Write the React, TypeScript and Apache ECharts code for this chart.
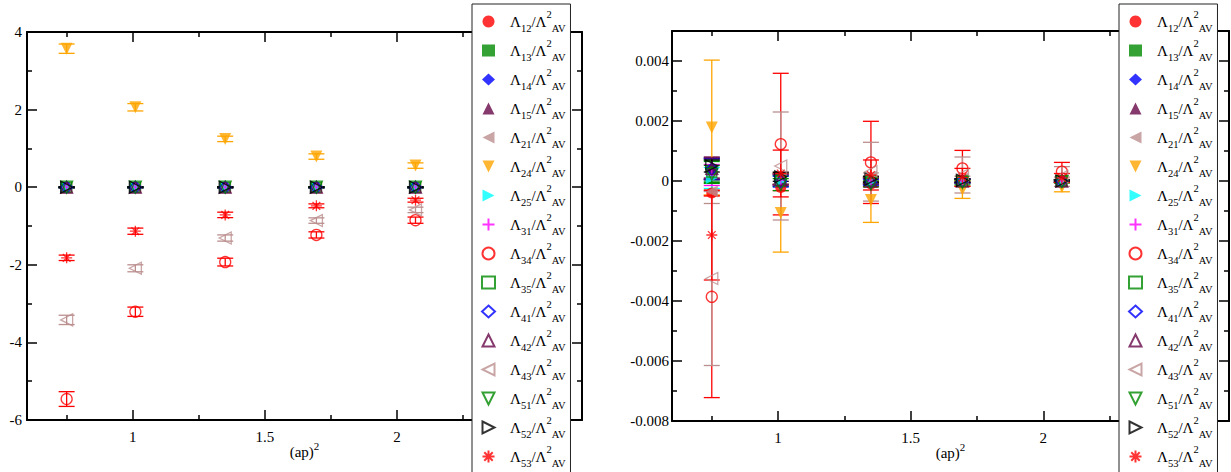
import React, { useEffect, useRef } from 'react';
import * as echarts from 'echarts';

const FONT = 'Liberation Serif, Times New Roman, serif';

// (ap)^2 values
const apSq = [0.75, 1.01, 1.35, 1.695, 2.07];

// series ids: Lambda_{ij} / Lambda^2_{AV}
const ids = ['12', '13', '14', '15', '21', '24', '25', '31', '34', '35', '41', '42', '43', '51', '52', '53'];

// ---------- left panel values and errors ----------
const left12 = [0, 0, 0, 0, 0];
const left13 = [0, 0, 0, 0, 0];
const left14 = [0, 0, 0, 0, 0];
const left15 = [0, 0, 0, 0, 0];
const left21 = [0, 0, 0, 0, 0];
const left24 = [3.57, 2.06, 1.245, 0.79, 0.557];
const left25 = [0, 0, 0, 0, 0];
const left31 = [0, 0, 0, 0, 0];
const left34 = [-5.46, -3.21, -1.93, -1.23, -0.85];
const left35 = [0, 0, 0, 0, 0];
const left41 = [0, 0, 0, 0, 0];
const left42 = [0, 0, 0, 0, 0];
const left43 = [-3.42, -2.09, -1.31, -0.86, -0.585];
const left51 = [0, 0, 0, 0, 0];
const left52 = [0, 0, 0, 0, 0];
const left53 = [-1.82, -1.134, -0.714, -0.48, -0.335];

const leftErrSmall = [0.01, 0.01, 0.01, 0.01, 0.01];
const leftErr24 = [0.12, 0.095, 0.07, 0.07, 0.07];
const leftErr34 = [0.19, 0.12, 0.1, 0.08, 0.08];
const leftErr43 = [0.12, 0.09, 0.08, 0.07, 0.07];
const leftErr53 = [0.07, 0.08, 0.07, 0.05, 0.05];

// ---------- right panel values and errors ----------
const right12 = [-0.0004, -0.00022, -0.0001, 0.00001, 0.00001];
const right13 = [0.00035, 0.00006, 0.00003, 0.00001, 0.0];
const right14 = [0.0004, 0.00004, 0.0, 0.0, 0.0];
const right15 = [0.00045, 0.00008, 0.00004, 0.00001, 0.0];
const right21 = [-0.00035, 0.0001, 0.00015, 0.00008, 0.00008];
const right24 = [0.00178, -0.00107, -0.00063, -0.00028, -0.0002];
const right25 = [0.0001, 0.0, -0.00002, 0.0, 0.0];
const right31 = [0.0002, 0.00003, 0.0, 0.0, 0.0];
const right34 = [-0.00386, 0.00123, 0.00062, 0.00042, 0.00031];
const right35 = [0.0003, 0.0, 0.0, 0.0, 0.0];
const right41 = [0.0004, -0.00002, -0.00004, 0.0, 0.0];
const right42 = [0.00042, 0.00005, 0.0, 0.0, 0.0];
const right43 = [-0.00325, 0.0005, 0.00031, 0.0002, 0.00015];
const right51 = [0.00022, -0.00012, -0.0001, -0.00005, -0.00002];
const right52 = [0.0005, 0.00014, 0.00006, 0.00002, 0.0];
const right53 = [-0.0018, 0.00025, 0.0002, 0.00012, 0.0001];

const rightErr12 = [0.00008, 0.0001, 0.00008, 0.00005, 0.00004];
const rightErrCluster = [0.00035, 0.00018, 0.0001, 0.00006, 0.00004];
const rightErr21 = [0.0004, 0.0002, 0.00012, 0.00008, 0.00005];
const rightErr24 = [0.00225, 0.0013, 0.00075, 0.0003, 0.00016];
const rightErr34 = [0.00336, 0.00236, 0.00137, 0.0006, 0.00031];
const rightErr43 = [0.0029, 0.0018, 0.00098, 0.0006, 0.00033];
const rightErr51 = [0.0003, 0.0002, 0.0001, 0.00008, 0.00005];
const rightErr52 = [0.0002, 0.00015, 0.0001, 0.00005, 0.00003];
const rightErr53 = [0.0015, 0.00078, 0.0005, 0.0003, 0.00015];

const leftVals = [left12, left13, left14, left15, left21, left24, left25, left31, left34, left35, left41, left42, left43, left51, left52, left53];
const leftErrs = [leftErrSmall, leftErrSmall, leftErrSmall, leftErrSmall, leftErrSmall, leftErr24, leftErrSmall, leftErrSmall, leftErr34, leftErrSmall, leftErrSmall, leftErrSmall, leftErr43, leftErrSmall, leftErrSmall, leftErr53];
const rightVals = [right12, right13, right14, right15, right21, right24, right25, right31, right34, right35, right41, right42, right43, right51, right52, right53];
const rightErrs = [rightErr12, rightErrCluster, rightErrCluster, rightErrCluster, rightErr21, rightErr24, rightErrCluster, rightErrCluster, rightErr34, rightErrCluster, rightErrCluster, rightErrCluster, rightErr43, rightErr51, rightErr52, rightErr53];

// axis ticks and labels
const xMajorTicks = [1, 1.5, 2, 2.5];
const xMajorLabels = [1, 1.5, 2];
const xMinor = [0.75, 1.25, 1.75, 2.25];
const yMajorL = [-6, -4, -2, 0, 2, 4];
const yMinorL = [-5, -3, -1, 1, 3];
const yMajorR = [-0.008, -0.006, -0.004, -0.002, 0, 0.002, 0.004];
const yMinorR = [-0.007, -0.005, -0.003, -0.001, 0.001, 0.003];

// styles
const RED = '#ff0000';
const GREEN = '#008a00';
const BLUE = '#0000ff';
const MAROON = '#670748';
const ROSY = '#bc8f8f';
const ORANGE = '#ffa500';
const CYAN = '#00ffff';
const MAGENTA = '#ff00ff';
const BLACK = '#000000';

const PLUS = 'path://M5,0L5,10M0,5L10,5';
const STAR = 'path://M5,0L5,10M0,5L10,5M1.5,1.5L8.5,8.5M1.5,8.5L8.5,1.5';
const TRI_UP = 'path://M5,0L10,10L0,10Z';
const TRI_DOWN = 'path://M0,0L10,0L5,10Z';
const TRI_LEFT = 'path://M10,0L10,10L0,5Z';
const TRI_RIGHT = 'path://M0,0L10,5L0,10Z';

type Sty = { sym: string; size: number; color: string; open: boolean };
const styles: Sty[] = [
  { sym: 'circle', size: 11, color: RED, open: false },
  { sym: 'rect', size: 10, color: GREEN, open: false },
  { sym: 'diamond', size: 12, color: BLUE, open: false },
  { sym: TRI_UP, size: 12, color: MAROON, open: false },
  { sym: TRI_LEFT, size: 12, color: ROSY, open: false },
  { sym: TRI_DOWN, size: 12, color: ORANGE, open: false },
  { sym: TRI_RIGHT, size: 12, color: CYAN, open: false },
  { sym: PLUS, size: 11, color: MAGENTA, open: true },
  { sym: 'circle', size: 11, color: RED, open: true },
  { sym: 'rect', size: 10, color: GREEN, open: true },
  { sym: 'diamond', size: 12, color: BLUE, open: true },
  { sym: TRI_UP, size: 12, color: MAROON, open: true },
  { sym: TRI_LEFT, size: 12, color: ROSY, open: true },
  { sym: TRI_DOWN, size: 12, color: GREEN, open: true },
  { sym: TRI_RIGHT, size: 12, color: BLACK, open: true },
  { sym: STAR, size: 11, color: RED, open: true },
];

const nameOf = (id: string) => `Λ${id}/Λ2AV`;

function panelSeries(p: number, vals: number[][], errs: number[][]) {
  const out: any[] = [];
  ids.forEach((id, k) => {
    const st = styles[k];
    out.push({
      type: 'custom',
      name: `${nameOf(id)} err ${p}`,
      xAxisIndex: p * 4,
      yAxisIndex: p * 4,
      silent: true,
      data: apSq.map((x, i) => [x, vals[k][i], errs[k][i]]),
      encode: { x: 0, y: 1 },
      renderItem: (params: any, api: any) => {
        const x = api.value(0);
        const y = api.value(1);
        const e = api.value(2);
        const t = api.coord([x, y + e]);
        const b = api.coord([x, y - e]);
        const hw = 8;
        const s = { stroke: st.color, lineWidth: 1.3 };
        return {
          type: 'group',
          children: [
            { type: 'line', shape: { x1: t[0], y1: t[1], x2: b[0], y2: b[1] }, style: s },
            { type: 'line', shape: { x1: t[0] - hw, y1: t[1], x2: t[0] + hw, y2: t[1] }, style: s },
            { type: 'line', shape: { x1: b[0] - hw, y1: b[1], x2: b[0] + hw, y2: b[1] }, style: s },
          ],
        };
      },
    });
    out.push({
      type: 'scatter',
      name: nameOf(id),
      xAxisIndex: p * 4,
      yAxisIndex: p * 4,
      data: apSq.map((x, i) => [x, vals[k][i]]),
      symbol: st.sym,
      symbolSize: st.size,
      itemStyle: st.open
        ? { color: 'rgba(0,0,0,0)', borderColor: st.color, borderWidth: 1.3 }
        : { color: st.color, borderWidth: 0 },
    });
  });
  return out;
}

function axisCommon(extra: any) {
  return Object.assign(
    {
      type: 'value',
      splitLine: { show: false },
      axisLine: { show: false, onZero: false, lineStyle: { color: '#000', width: 2 } },
    },
    extra
  );
}

function panelAxes(p: number, yMin: number, yMax: number, yMaj: number[], yMin2: number[], labelMargin: number) {
  const lbl = { fontSize: 15, fontFamily: FONT, color: '#000' };
  const xs = [
    axisCommon({
      gridIndex: p, position: 'bottom', min: 0.6, max: 2.7,
      axisLine: { show: true, onZero: false, lineStyle: { color: '#000', width: 2 } },
      axisTick: { show: true, inside: true, length: 10, customValues: xMajorTicks, lineStyle: { color: '#000', width: 1.5 } },
      axisLabel: Object.assign({ show: true, customValues: xMajorLabels, margin: 9 }, lbl),
      name: '{a|(ap)}{s|2}',
      nameLocation: 'middle',
      nameGap: 22,
      nameMoveOverlap: false,
      nameTextStyle: {
        rich: {
          a: { fontSize: 15, fontFamily: FONT, color: '#000', lineHeight: 20 },
          s: { fontSize: 11, fontFamily: FONT, color: '#000', lineHeight: 20, padding: [0, 0, 12, 0] },
        },
      },
    }),
    axisCommon({
      gridIndex: p, position: 'bottom', min: 0.6, max: 2.7,
      axisTick: { show: true, inside: true, length: 5, customValues: xMinor, lineStyle: { color: '#000', width: 1.5 } },
      axisLabel: { show: false },
    }),
    axisCommon({
      gridIndex: p, position: 'top', min: 0.6, max: 2.7,
      axisLine: { show: true, onZero: false, lineStyle: { color: '#000', width: 2 } },
      axisTick: { show: true, inside: true, length: 10, customValues: xMajorTicks, lineStyle: { color: '#000', width: 1.5 } },
      axisLabel: { show: false },
    }),
    axisCommon({
      gridIndex: p, position: 'top', min: 0.6, max: 2.7,
      axisTick: { show: true, inside: true, length: 5, customValues: xMinor, lineStyle: { color: '#000', width: 1.5 } },
      axisLabel: { show: false },
    }),
  ];
  const ys = [
    axisCommon({
      gridIndex: p, position: 'left', min: yMin, max: yMax,
      axisLine: { show: true, onZero: false, lineStyle: { color: '#000', width: 2 } },
      axisTick: { show: true, inside: true, length: 10, customValues: yMaj, lineStyle: { color: '#000', width: 1.5 } },
      axisLabel: Object.assign({ show: true, customValues: yMaj, margin: labelMargin }, lbl),
    }),
    axisCommon({
      gridIndex: p, position: 'left', min: yMin, max: yMax,
      axisTick: { show: true, inside: true, length: 5, customValues: yMin2, lineStyle: { color: '#000', width: 1.5 } },
      axisLabel: { show: false },
    }),
    axisCommon({
      gridIndex: p, position: 'right', min: yMin, max: yMax,
      axisLine: { show: true, onZero: false, lineStyle: { color: '#000', width: 2 } },
      axisTick: { show: true, inside: true, length: 10, customValues: yMaj, lineStyle: { color: '#000', width: 1.5 } },
      axisLabel: { show: false },
    }),
    axisCommon({
      gridIndex: p, position: 'right', min: yMin, max: yMax,
      axisTick: { show: true, inside: true, length: 5, customValues: yMin2, lineStyle: { color: '#000', width: 1.5 } },
      axisLabel: { show: false },
    }),
  ];
  return { xs, ys };
}

const legendRich = {
  g: { fontSize: 15, fontFamily: FONT, color: '#000', lineHeight: 29, width: 10 },
  L: { fontSize: 15, fontFamily: FONT, color: '#000', lineHeight: 29 },
  sb: { fontSize: 10.5, fontFamily: FONT, color: '#000', lineHeight: 29, padding: [14, 0, 0, 0] },
  sp: { fontSize: 10.5, fontFamily: FONT, color: '#000', lineHeight: 29, padding: [0, 0, 15, 0] },
};

function makeLegend(left: number) {
  return {
    show: true,
    orient: 'vertical',
    left,
    top: 4,
    height: 700,
    selectedMode: false,
    itemGap: 0,
    itemWidth: 13,
    itemHeight: 12,
    padding: [3, 5, 10, 9],
    backgroundColor: '#ffffff',
    borderColor: '#222',
    borderWidth: 1,
    data: ids.map((id) => nameOf(id)),
    formatter: (name: string) => {
      const id = name.slice(1, 3);
      return `{g| }{L|Λ}{sb|${id}}{L|/Λ}{sp|2}{sb|AV}`;
    },
    textStyle: { fontFamily: FONT, fontSize: 15, lineHeight: 29, rich: legendRich },
  };
}

export default function App() {
  const ref = useRef<HTMLDivElement>(null);
  useEffect(() => {
    document.body.style.margin = '0';
    if (!ref.current) return;
    const chart = echarts.init(ref.current, undefined, { renderer: 'svg' });
    const a0 = panelAxes(0, -6, 4, yMajorL, yMinorL, 5);
    const a1 = panelAxes(1, -0.008, 0.005, yMajorR, yMinorR, 3);
    chart.setOption({
      animation: false,
      backgroundColor: '#ffffff',
      textStyle: { fontFamily: FONT },
      grid: [
        { left: 27, top: 32, width: 555, height: 388 },
        { left: 672, top: 31, width: 557, height: 390 },
      ],
      xAxis: [...a0.xs, ...a1.xs],
      yAxis: [...a0.ys, ...a1.ys],
      legend: [makeLegend(472), makeLegend(1119)],
      series: [...panelSeries(0, leftVals, leftErrs), ...panelSeries(1, rightVals, rightErrs)],
    });
    return () => chart.dispose();
  }, []);
  return <div ref={ref} style={{ width: 1231, height: 472 }} />;
}
